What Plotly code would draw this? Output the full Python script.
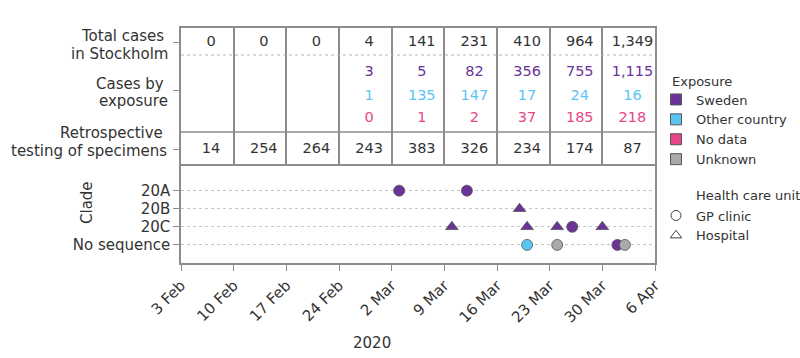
import plotly.graph_objects as go

# ---------------- data ----------------
week_starts = ["2020-02-03", "2020-02-10", "2020-02-17", "2020-02-24", "2020-03-02",
               "2020-03-09", "2020-03-16", "2020-03-23", "2020-03-30"]
week_mid = ["2020-02-07", "2020-02-14", "2020-02-21", "2020-02-28", "2020-03-06",
            "2020-03-13", "2020-03-20", "2020-03-27", "2020-04-03"]
tick_dates = week_starts + ["2020-04-06"]
tick_labels = ["3 Feb", "10 Feb", "17 Feb", "24 Feb", "2 Mar", "9 Mar", "16 Mar",
               "23 Mar", "30 Mar", "6 Apr"]

total_cases = ["0", "0", "0", "4", "141", "231", "410", "964", "1,349"]
cases_sweden = ["", "", "", "3", "5", "82", "356", "755", "1,115"]
cases_other = ["", "", "", "1", "135", "147", "17", "24", "16"]
cases_nodata = ["", "", "", "0", "1", "2", "37", "185", "218"]
retro_tests = ["14", "254", "264", "243", "383", "326", "234", "174", "87"]

clades = ["No sequence", "20C", "20B", "20A"]

pt_date = ["2020-03-03", "2020-03-12", "2020-03-19", "2020-03-10", "2020-03-20",
           "2020-03-24", "2020-03-26", "2020-03-30", "2020-03-20", "2020-03-24",
           "2020-04-01", "2020-04-02"]
pt_clade = ["20A", "20A", "20B", "20C", "20C", "20C", "20C", "20C",
            "No sequence", "No sequence", "No sequence", "No sequence"]
pt_exposure = ["Sweden", "Sweden", "Sweden", "Sweden", "Sweden", "Sweden", "Sweden",
               "Sweden", "Other country", "Unknown", "Sweden", "Unknown"]
pt_unit = ["GP clinic", "GP clinic", "Hospital", "Hospital", "Hospital", "Hospital",
           "GP clinic", "Hospital", "GP clinic", "GP clinic", "GP clinic", "GP clinic"]

exposure_names = ["Sweden", "Other country", "No data", "Unknown"]
exposure_colors = {"Sweden": "#6A3398", "Other country": "#5BC5F2",
                   "No data": "#E8468A", "Unknown": "#AAAAAA"}
unit_names = ["GP clinic", "Hospital"]
unit_symbols = {"GP clinic": "circle", "Hospital": "triangle-up"}

# ---------------- layout constants ----------------
TXT = "#333333"
LINE = "#8c8c8c"
FONT = "DejaVu Sans"
W, H = 800, 358
L, R, T, B = 181, 145, 28, 95
PW, PH = W - L - R, H - T - B
# table row positions (table y units = pixels from table top)
ROW_TOTAL, ROW_EXP, ROW_RETRO = 14, 62, 121
ROW_SW, ROW_OT, ROW_ND = 44.7, 68, 90
SEP_DOT, SEP_SOLID = 27, 104
TABLE_H = 135.5


def px(xp):
    return (xp - L) / PW


def py(yp):
    return (H - B - yp) / PH


fig = go.Figure()


def add_row(vals, yrow, color):
    fig.add_trace(go.Scatter(x=week_mid, y=[yrow] * len(vals), text=vals, mode="text",
                             textfont=dict(size=14.5, color=color, family=FONT),
                             xaxis="x", yaxis="y", showlegend=False, hoverinfo="skip"))


add_row(total_cases, ROW_TOTAL, TXT)
add_row(cases_sweden, ROW_SW, exposure_colors["Sweden"])
add_row(cases_other, ROW_OT, exposure_colors["Other country"])
add_row(cases_nodata, ROW_ND, exposure_colors["No data"])
add_row(retro_tests, ROW_RETRO, TXT)

# scatter points, one at a time to keep drawing order
for d, c, e, u in zip(pt_date, pt_clade, pt_exposure, pt_unit):
    fig.add_trace(go.Scatter(x=[d], y=[c], mode="markers", xaxis="x2", yaxis="y2",
                             marker=dict(symbol=unit_symbols[u], size=11,
                                         color=exposure_colors[e],
                                         line=dict(width=0.8, color="#555555")),
                             showlegend=False))

# legend traces
for e in exposure_names:
    fig.add_trace(go.Scatter(x=[None], y=[None], mode="markers", name=e, xaxis="x2", yaxis="y2",
                             marker=dict(symbol="square", size=11, color=exposure_colors[e],
                                         line=dict(width=1, color="#555555")),
                             legend="legend"))
for u in unit_names:
    fig.add_trace(go.Scatter(x=[None], y=[None], mode="markers", name=u, xaxis="x2", yaxis="y2",
                             marker=dict(symbol=unit_symbols[u] + "-open", size=10,
                                         color="#444444", line=dict(width=1)),
                             legend="legend2"))

split = 99.5 / PH
xrange_ = ["2020-02-03", "2020-04-06"]

fig.update_layout(
    width=W, height=H,
    margin=dict(l=L, r=R, t=T, b=B, autoexpand=False),
    paper_bgcolor="white", plot_bgcolor="white",
    font=dict(family=FONT, size=15, color=TXT),
    xaxis=dict(domain=[0, 1], anchor="y", type="date", range=xrange_, matches="x2",
               showticklabels=False, ticks="", showgrid=True, gridcolor=LINE, gridwidth=1.5,
               tickvals=tick_dates, showline=True, linecolor=LINE, linewidth=1.5, mirror=True,
               zeroline=False),
    yaxis=dict(domain=[split, 1], anchor="x", range=[TABLE_H, 0], showgrid=False,
               zeroline=False, tickvals=[ROW_TOTAL, ROW_EXP, ROW_RETRO], ticktext=["", "", ""],
               ticks="outside", ticklen=6, tickcolor=LINE, showline=True, linecolor=LINE,
               linewidth=1.5, mirror=True),
    xaxis2=dict(domain=[0, 1], anchor="y2", type="date", range=xrange_,
                tickvals=tick_dates, ticktext=tick_labels, tickangle=-45,
                ticks="outside", ticklen=6, tickcolor=LINE, showgrid=False,
                showline=True, linecolor=LINE, linewidth=1.5, mirror=False,
                tickfont=dict(size=15, color=TXT), zeroline=False),
    yaxis2=dict(domain=[0, split], anchor="x2", type="category", categoryorder="array",
                categoryarray=clades, range=[-1, 4.5], showgrid=True, gridcolor="#c4c4c4",
                griddash="dot", gridwidth=1, ticks="outside", ticklen=6, tickcolor=LINE,
                showline=True, linecolor=LINE, linewidth=1.5, mirror=True,
                tickfont=dict(size=15, color=TXT), zeroline=False),
    legend=dict(x=px(656), xanchor="left", y=py(84.5), yanchor="top",
                font=dict(size=13, color=TXT), itemwidth=30, tracegroupgap=0,
                bgcolor="rgba(0,0,0,0)"),
    legend2=dict(x=px(656), xanchor="left", y=py(200.5), yanchor="top",
                 font=dict(size=13, color=TXT), itemwidth=30,
                 bgcolor="rgba(0,0,0,0)"),
)

# separator lines within the table
fig.add_shape(type="line", xref="x domain", yref="y", x0=0, x1=1, y0=SEP_DOT, y1=SEP_DOT,
              line=dict(color="#b5b5b5", width=1, dash="dot"))
fig.add_shape(type="line", xref="x domain", yref="y", x0=0, x1=1, y0=SEP_SOLID, y1=SEP_SOLID,
              line=dict(color=LINE, width=1.5))


def label(text, xp, yp, anchor="right", size=15, angle=0):
    fig.add_annotation(text=text, xref="paper", yref="paper", x=px(xp), y=py(yp),
                       xanchor=anchor, yanchor="middle", showarrow=False, textangle=angle,
                       font=dict(size=size, color=TXT, family=FONT))


# row labels (one annotation per line)
label("Total cases", 166, 36)
label("in Stockholm", 170, 53.5)
label("Cases by", 166, 84)
label("exposure", 170, 101)
label("Retrospective", 165, 132.5)
label("testing of specimens", 169, 151)

label("Clade", 87, 203, anchor="center", angle=-90)
label("2020", 372, 343, anchor="center")
label("Exposure", 670, 81, anchor="left", size=13)
label("Health care unit", 694, 196, anchor="left", size=13)

fig.write_html("out.html", post_script="document.body.style.margin='0';",
               config={"displayModeBar": False})
